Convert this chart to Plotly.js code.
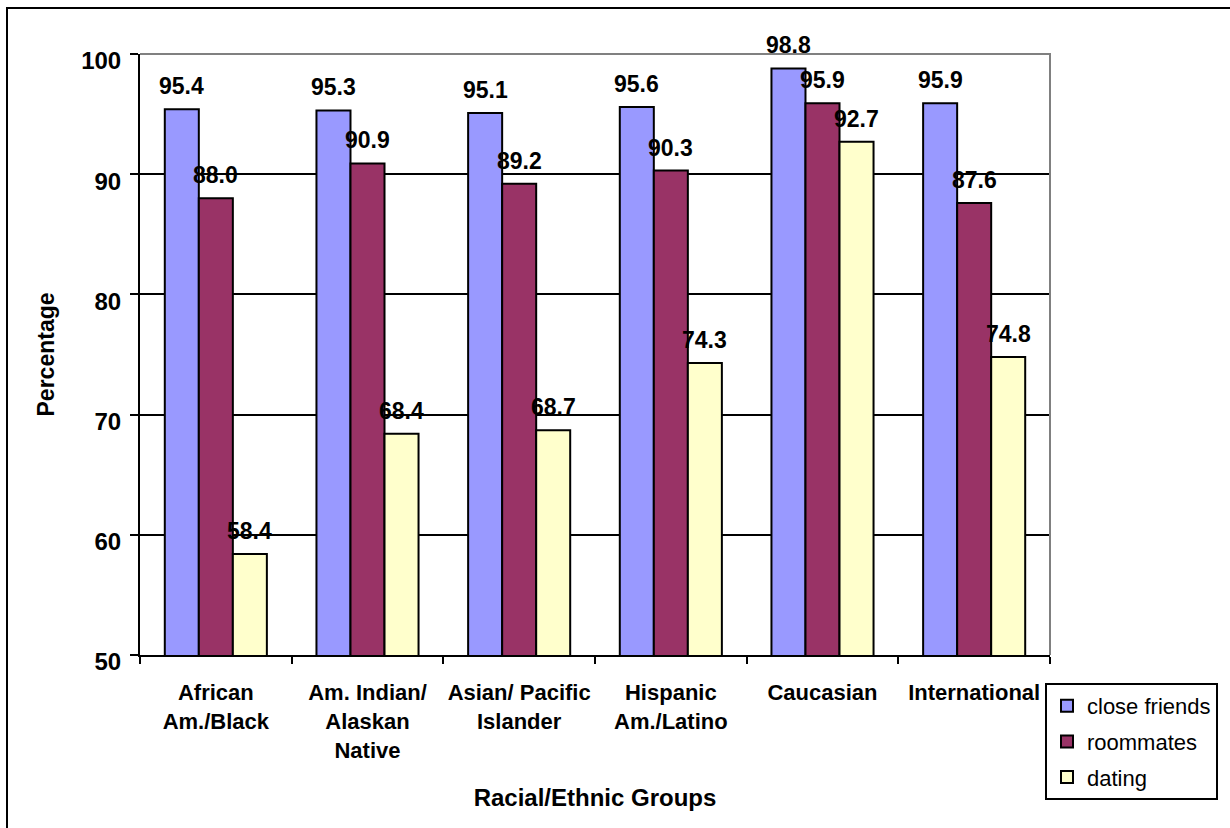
<!DOCTYPE html>
<html>
<head>
<meta charset="utf-8">
<script src="https://cdn.plot.ly/plotly-3.0.1.min.js"></script>
<style>
html,body{margin:0;padding:0;background:#fff;}
#chart{width:1230px;height:828px;}
</style>
</head>
<body>
<div id="chart"></div>
<script>
const categories = ["African<br>Am./Black", "Am. Indian/<br>Alaskan<br>Native", "Asian/ Pacific<br>Islander", "Hispanic<br>Am./Latino", "Caucasian", "International"];
const closeFriends = [95.4, 95.3, 95.1, 95.6, 98.8, 95.9];
const roommates = [88.0, 90.9, 89.2, 90.3, 95.9, 87.6];
const dating = [58.4, 68.4, 68.7, 74.3, 92.7, 74.8];
const seriesNames = ["close friends", "roommates", "dating"];
const seriesColors = ["#9999FF", "#993366", "#FFFFCC"];
const yTicks = [50, 60, 70, 80, 90, 100];

const FONT = "Arial, 'Liberation Sans', sans-serif";
const M = {l: 140, r: 180, t: 54, b: 173, autoexpand: false};
const W = 1230, H = 828;
const plotW = W - M.l - M.r;
const bargap = 0.327;
const barPx = plotW / categories.length * (1 - bargap) / 3;

const seriesData = [closeFriends, roommates, dating];
const traces = seriesData.map((vals, i) => ({
  type: "bar",
  name: seriesNames[i],
  legendgroup: "g" + i,
  x: categories,
  y: vals,
  marker: {color: seriesColors[i], line: {color: "#000", width: 2}},
  hoverinfo: "x+y+name"
}));

const annotations = [];
seriesData.forEach((vals, i) => {
  vals.forEach((v, j) => {
    annotations.push({
      x: categories[j], y: v, xref: "x", yref: "y",
      text: v.toFixed(1), showarrow: false,
      xanchor: "center", yanchor: "bottom",
      xshift: (i - 1) * barPx, yshift: 8,
      font: {family: FONT, size: 23, color: "#000", weight: "bold"}
    });
  });
});

const px2x = p => (p - M.l) / plotW;
const py2y = p => (H - M.b - p) / (H - M.t - M.b);

const shapes = [
  {type: "path", xref: "paper", yref: "paper",
   path: `M 0 1 L 1 1 L 1 0`, line: {color: "#808080", width: 2}, layer: "above"},
  {type: "rect", xref: "paper", yref: "paper",
   x0: px2x(7), x1: px2x(1260), y0: py2y(860), y1: py2y(8),
   line: {color: "#000", width: 2}, fillcolor: "rgba(0,0,0,0)", layer: "below"}
];

const layout = {
  width: W, height: H,
  margin: M,
  paper_bgcolor: "#fff", plot_bgcolor: "#fff",
  barmode: "group", bargap: bargap, bargroupgap: 0,
  font: {family: FONT, color: "#000"},
  showlegend: true,
  legend: {
    x: px2x(1045), y: py2y(683), xanchor: "left", yanchor: "top",
    bordercolor: "#000", borderwidth: 2, bgcolor: "#fff",
    font: {family: FONT, size: 22, color: "#000"},
    traceorder: "grouped", tracegroupgap: 4,
    itemwidth: 30
  },
  xaxis: {
    type: "category",
    tickangle: 0, automargin: false,
    tickson: "boundaries", ticks: "outside", ticklen: 7, tickwidth: 2, tickcolor: "#000",
    showline: true, linecolor: "#000", linewidth: 2,
    showgrid: false,
    tickfont: {family: FONT, size: 22, color: "#000", weight: "bold"},
    ticklabelstandoff: 17,
    title: {text: "Racial/Ethnic Groups", font: {family: FONT, size: 24, weight: "bold"}, standoff: 28}
  },
  yaxis: {
    range: [50, 100], tickvals: yTicks, ticktext: yTicks.map(String),
    automargin: false,
    ticks: "outside", ticklen: 8, tickwidth: 2, tickcolor: "#000",
    showline: true, linecolor: "#000", linewidth: 2,
    showgrid: true, gridcolor: "#000", gridwidth: 2,
    zeroline: false,
    tickfont: {family: FONT, size: 24, color: "#000", weight: "bold"},
    ticklabelshift: 7,
    ticklabelstandoff: 4,
    title: {text: "Percentage", font: {family: FONT, size: 23, weight: "bold"}, standoff: 20}
  },
  annotations: annotations,
  shapes: shapes
};

Plotly.newPlot("chart", traces, layout, {staticPlot: true});
</script>
</body>
</html>
